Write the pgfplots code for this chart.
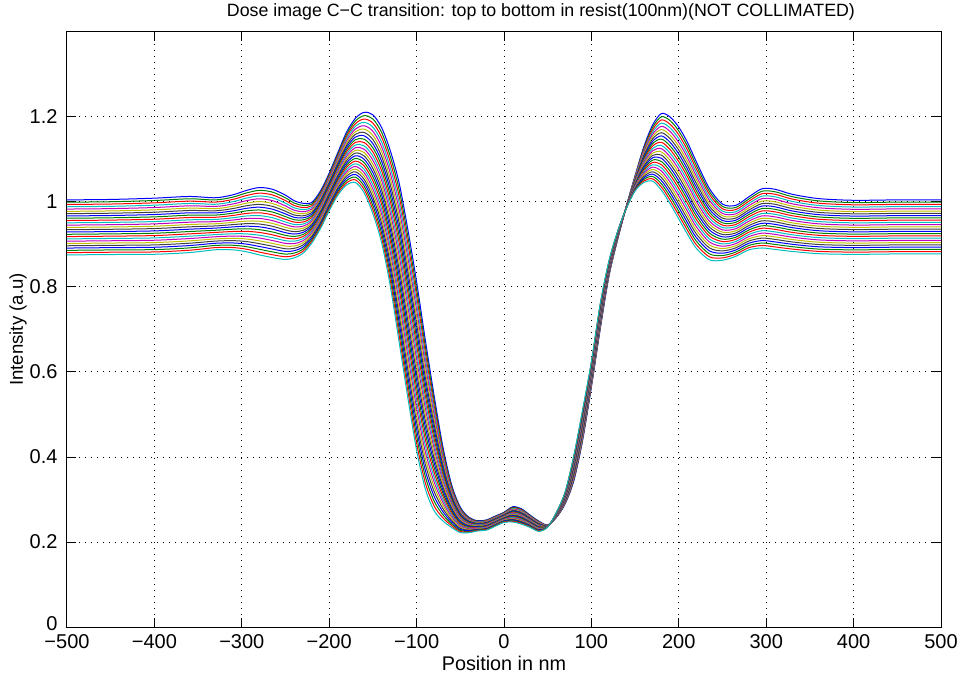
\documentclass[border=0pt]{standalone}
\usepackage{fontspec}
\setmainfont{Liberation Sans}
\usepackage{pgfplots}
\usepackage{pgfplotstable}
\pgfplotsset{compat=1.18}
\definecolor{mb}{rgb}{0,0,1}
\definecolor{mg}{rgb}{0,0.5,0}
\definecolor{mr}{rgb}{1,0,0}
\definecolor{mc}{rgb}{0,0.75,0.75}
\definecolor{mm}{rgb}{0.75,0,0.75}
\definecolor{my}{rgb}{0.75,0.75,0}
\definecolor{mk}{rgb}{0.25,0.25,0.25}
\pgfplotstableread{
x y0 y1 y2 y3 y4 y5 y6 y7 y8 y9 y10 y11 y12 y13 y14 y15 y16 y17 y18 y19 y20 y21 y22 y23 y24
-500 1.0050 0.9996 0.9942 0.9888 0.9834 0.9780 0.9726 0.9672 0.9618 0.9564 0.9510 0.9456 0.9402 0.9348 0.9294 0.9240 0.9186 0.9132 0.9078 0.9024 0.8970 0.8916 0.8862 0.8808 0.8754
-450 1.0060 1.0006 0.9952 0.9898 0.9844 0.9790 0.9736 0.9682 0.9628 0.9574 0.9520 0.9466 0.9412 0.9358 0.9304 0.9250 0.9196 0.9142 0.9088 0.9034 0.8980 0.8926 0.8872 0.8818 0.8764
-400 1.0090 1.0035 0.9980 0.9925 0.9870 0.9815 0.9760 0.9705 0.9650 0.9595 0.9540 0.9485 0.9430 0.9375 0.9320 0.9265 0.9210 0.9155 0.9100 0.9045 0.8990 0.8935 0.8880 0.8825 0.8770
-360 1.0130 1.0075 1.0020 0.9965 0.9910 0.9855 0.9800 0.9745 0.9690 0.9635 0.9580 0.9525 0.9470 0.9415 0.9360 0.9305 0.9250 0.9195 0.9140 0.9085 0.9030 0.8975 0.8920 0.8865 0.8810
-330 1.0100 1.0049 0.9998 0.9947 0.9896 0.9845 0.9794 0.9743 0.9692 0.9641 0.9590 0.9539 0.9488 0.9437 0.9386 0.9335 0.9284 0.9233 0.9182 0.9131 0.9080 0.9029 0.8978 0.8927 0.8876
-310 1.0170 1.0116 1.0062 1.0008 0.9954 0.9900 0.9846 0.9792 0.9738 0.9684 0.9630 0.9576 0.9522 0.9468 0.9414 0.9360 0.9306 0.9252 0.9198 0.9144 0.9090 0.9036 0.8982 0.8928 0.8874
-295 1.0270 1.0210 1.0150 1.0090 1.0030 0.9970 0.9910 0.9850 0.9790 0.9730 0.9670 0.9610 0.9550 0.9490 0.9430 0.9370 0.9310 0.9250 0.9190 0.9130 0.9070 0.9010 0.8950 0.8890 0.8830
-280 1.0340 1.0274 1.0208 1.0142 1.0076 1.0010 0.9944 0.9878 0.9812 0.9746 0.9680 0.9614 0.9548 0.9482 0.9416 0.9350 0.9284 0.9218 0.9152 0.9086 0.9020 0.8954 0.8888 0.8822 0.8756
-265 1.0300 1.0233 1.0166 1.0099 1.0032 0.9965 0.9898 0.9831 0.9764 0.9697 0.9630 0.9563 0.9496 0.9429 0.9362 0.9295 0.9228 0.9161 0.9094 0.9027 0.8960 0.8893 0.8826 0.8759 0.8692
-250 1.0160 1.0097 1.0034 0.9971 0.9908 0.9845 0.9782 0.9719 0.9656 0.9593 0.9530 0.9467 0.9404 0.9341 0.9278 0.9215 0.9152 0.9089 0.9026 0.8963 0.8900 0.8837 0.8774 0.8711 0.8648
-240 1.0030 0.9974 0.9918 0.9862 0.9806 0.9750 0.9694 0.9638 0.9582 0.9526 0.9470 0.9414 0.9358 0.9302 0.9246 0.9190 0.9134 0.9078 0.9022 0.8966 0.8910 0.8854 0.8798 0.8742 0.8686
-230 0.9970 0.9921 0.9872 0.9823 0.9774 0.9725 0.9676 0.9627 0.9578 0.9529 0.9480 0.9431 0.9382 0.9333 0.9284 0.9235 0.9186 0.9137 0.9088 0.9039 0.8990 0.8941 0.8892 0.8843 0.8794
-220 0.9990 0.9950 0.9910 0.9870 0.9830 0.9790 0.9750 0.9710 0.9670 0.9630 0.9590 0.9550 0.9510 0.9470 0.9430 0.9390 0.9350 0.9310 0.9270 0.9230 0.9190 0.9150 0.9110 0.9070 0.9030
-210 1.0260 1.0223 1.0186 1.0149 1.0112 1.0075 1.0038 1.0001 0.9964 0.9927 0.9890 0.9853 0.9816 0.9779 0.9742 0.9705 0.9668 0.9631 0.9594 0.9557 0.9520 0.9483 0.9446 0.9409 0.9372
-200 1.0680 1.0643 1.0606 1.0569 1.0532 1.0495 1.0458 1.0421 1.0384 1.0347 1.0310 1.0273 1.0236 1.0199 1.0162 1.0125 1.0088 1.0051 1.0014 0.9977 0.9940 0.9903 0.9866 0.9829 0.9792
-190 1.1170 1.1128 1.1086 1.1044 1.1002 1.0960 1.0918 1.0876 1.0834 1.0792 1.0750 1.0708 1.0666 1.0624 1.0582 1.0540 1.0498 1.0456 1.0414 1.0372 1.0330 1.0288 1.0246 1.0204 1.0162
-180 1.1650 1.1598 1.1546 1.1494 1.1442 1.1390 1.1338 1.1286 1.1234 1.1182 1.1130 1.1078 1.1026 1.0974 1.0922 1.0870 1.0818 1.0766 1.0714 1.0662 1.0610 1.0558 1.0506 1.0454 1.0402
-170 1.1970 1.1907 1.1844 1.1781 1.1718 1.1655 1.1592 1.1529 1.1466 1.1403 1.1340 1.1277 1.1214 1.1151 1.1088 1.1025 1.0962 1.0899 1.0836 1.0773 1.0710 1.0647 1.0584 1.0521 1.0458
-160 1.2110 1.2031 1.1952 1.1873 1.1794 1.1715 1.1636 1.1557 1.1478 1.1399 1.1320 1.1241 1.1162 1.1083 1.1004 1.0925 1.0846 1.0767 1.0688 1.0609 1.0530 1.0451 1.0372 1.0293 1.0214
-150 1.2050 1.1953 1.1856 1.1759 1.1662 1.1565 1.1468 1.1371 1.1274 1.1177 1.1080 1.0983 1.0886 1.0789 1.0692 1.0595 1.0498 1.0401 1.0304 1.0207 1.0110 1.0013 0.9916 0.9819 0.9722
-140 1.1750 1.1637 1.1524 1.1411 1.1298 1.1185 1.1072 1.0959 1.0846 1.0733 1.0620 1.0507 1.0394 1.0281 1.0168 1.0055 0.9942 0.9829 0.9716 0.9603 0.9490 0.9377 0.9264 0.9151 0.9038
-130 1.1200 1.1067 1.0934 1.0801 1.0668 1.0535 1.0402 1.0269 1.0136 1.0003 0.9870 0.9737 0.9604 0.9471 0.9338 0.9205 0.9072 0.8939 0.8806 0.8673 0.8540 0.8407 0.8274 0.8141 0.8008
-120 1.0450 1.0294 1.0138 0.9982 0.9826 0.9670 0.9514 0.9358 0.9202 0.9046 0.8890 0.8734 0.8578 0.8422 0.8266 0.8110 0.7954 0.7798 0.7642 0.7486 0.7330 0.7174 0.7018 0.6862 0.6706
-110 0.9350 0.9185 0.9020 0.8855 0.8690 0.8525 0.8360 0.8195 0.8030 0.7865 0.7700 0.7535 0.7370 0.7205 0.7040 0.6875 0.6710 0.6545 0.6380 0.6215 0.6050 0.5885 0.5720 0.5555 0.5390
-100 0.8120 0.7955 0.7790 0.7625 0.7460 0.7295 0.7130 0.6965 0.6800 0.6635 0.6470 0.6305 0.6140 0.5975 0.5810 0.5645 0.5480 0.5315 0.5150 0.4985 0.4820 0.4655 0.4490 0.4325 0.4160
-90 0.6750 0.6604 0.6458 0.6312 0.6166 0.6020 0.5874 0.5728 0.5582 0.5436 0.5290 0.5144 0.4998 0.4852 0.4706 0.4560 0.4414 0.4268 0.4122 0.3976 0.3830 0.3684 0.3538 0.3392 0.3246
-80 0.5450 0.5337 0.5224 0.5111 0.4998 0.4885 0.4772 0.4659 0.4546 0.4433 0.4320 0.4207 0.4094 0.3981 0.3868 0.3755 0.3642 0.3529 0.3416 0.3303 0.3190 0.3077 0.2964 0.2851 0.2738
-70 0.4250 0.4177 0.4104 0.4031 0.3958 0.3885 0.3812 0.3739 0.3666 0.3593 0.3520 0.3447 0.3374 0.3301 0.3228 0.3155 0.3082 0.3009 0.2936 0.2863 0.2790 0.2717 0.2644 0.2571 0.2498
-60 0.3350 0.3308 0.3266 0.3224 0.3182 0.3140 0.3098 0.3056 0.3014 0.2972 0.2930 0.2888 0.2846 0.2804 0.2762 0.2720 0.2678 0.2636 0.2594 0.2552 0.2510 0.2468 0.2426 0.2384 0.2342
-50 0.2820 0.2795 0.2770 0.2745 0.2720 0.2695 0.2670 0.2645 0.2620 0.2595 0.2570 0.2545 0.2520 0.2495 0.2470 0.2445 0.2420 0.2395 0.2370 0.2345 0.2320 0.2295 0.2270 0.2245 0.2220
-40 0.2580 0.2565 0.2550 0.2535 0.2520 0.2505 0.2490 0.2475 0.2460 0.2445 0.2430 0.2415 0.2400 0.2385 0.2370 0.2355 0.2340 0.2325 0.2310 0.2295 0.2280 0.2265 0.2250 0.2235 0.2220
-30 0.2500 0.2490 0.2480 0.2470 0.2460 0.2450 0.2440 0.2430 0.2420 0.2410 0.2400 0.2390 0.2380 0.2370 0.2360 0.2350 0.2340 0.2330 0.2320 0.2310 0.2300 0.2290 0.2280 0.2270 0.2260
-20 0.2520 0.2510 0.2500 0.2490 0.2480 0.2470 0.2460 0.2450 0.2440 0.2430 0.2420 0.2410 0.2400 0.2390 0.2380 0.2370 0.2360 0.2350 0.2340 0.2330 0.2320 0.2310 0.2300 0.2290 0.2280
-10 0.2610 0.2600 0.2590 0.2580 0.2570 0.2560 0.2550 0.2540 0.2530 0.2520 0.2510 0.2500 0.2490 0.2480 0.2470 0.2460 0.2450 0.2440 0.2430 0.2420 0.2410 0.2400 0.2390 0.2380 0.2370
0 0.2700 0.2690 0.2680 0.2670 0.2660 0.2650 0.2640 0.2630 0.2620 0.2610 0.2600 0.2590 0.2580 0.2570 0.2560 0.2550 0.2540 0.2530 0.2520 0.2510 0.2500 0.2490 0.2480 0.2470 0.2460
10 0.2830 0.2815 0.2800 0.2785 0.2770 0.2755 0.2740 0.2725 0.2710 0.2695 0.2680 0.2665 0.2650 0.2635 0.2620 0.2605 0.2590 0.2575 0.2560 0.2545 0.2530 0.2515 0.2500 0.2485 0.2470
20 0.2780 0.2765 0.2750 0.2735 0.2720 0.2705 0.2690 0.2675 0.2660 0.2645 0.2630 0.2615 0.2600 0.2585 0.2570 0.2555 0.2540 0.2525 0.2510 0.2495 0.2480 0.2465 0.2450 0.2435 0.2420
30 0.2630 0.2618 0.2606 0.2594 0.2582 0.2570 0.2558 0.2546 0.2534 0.2522 0.2510 0.2498 0.2486 0.2474 0.2462 0.2450 0.2438 0.2426 0.2414 0.2402 0.2390 0.2378 0.2366 0.2354 0.2342
40 0.2490 0.2480 0.2470 0.2460 0.2450 0.2440 0.2430 0.2420 0.2410 0.2400 0.2390 0.2380 0.2370 0.2360 0.2350 0.2340 0.2330 0.2320 0.2310 0.2300 0.2290 0.2280 0.2270 0.2260 0.2250
50 0.2400 0.2398 0.2396 0.2394 0.2392 0.2390 0.2388 0.2386 0.2384 0.2382 0.2380 0.2378 0.2376 0.2374 0.2372 0.2370 0.2368 0.2366 0.2364 0.2362 0.2360 0.2358 0.2356 0.2354 0.2352
60 0.2580 0.2585 0.2590 0.2595 0.2600 0.2605 0.2610 0.2615 0.2620 0.2625 0.2630 0.2635 0.2640 0.2645 0.2650 0.2655 0.2660 0.2665 0.2670 0.2675 0.2680 0.2685 0.2690 0.2695 0.2700
70 0.2900 0.2912 0.2924 0.2936 0.2948 0.2960 0.2972 0.2984 0.2996 0.3008 0.3020 0.3032 0.3044 0.3056 0.3068 0.3080 0.3092 0.3104 0.3116 0.3128 0.3140 0.3152 0.3164 0.3176 0.3188
80 0.3450 0.3475 0.3500 0.3525 0.3550 0.3575 0.3600 0.3625 0.3650 0.3675 0.3700 0.3725 0.3750 0.3775 0.3800 0.3825 0.3850 0.3875 0.3900 0.3925 0.3950 0.3975 0.4000 0.4025 0.4050
90 0.4400 0.4430 0.4460 0.4490 0.4520 0.4550 0.4580 0.4610 0.4640 0.4670 0.4700 0.4730 0.4760 0.4790 0.4820 0.4850 0.4880 0.4910 0.4940 0.4970 0.5000 0.5030 0.5060 0.5090 0.5120
100 0.5650 0.5675 0.5700 0.5725 0.5750 0.5775 0.5800 0.5825 0.5850 0.5875 0.5900 0.5925 0.5950 0.5975 0.6000 0.6025 0.6050 0.6075 0.6100 0.6125 0.6150 0.6175 0.6200 0.6225 0.6250
110 0.7000 0.7025 0.7050 0.7075 0.7100 0.7125 0.7150 0.7175 0.7200 0.7225 0.7250 0.7275 0.7300 0.7325 0.7350 0.7375 0.7400 0.7425 0.7450 0.7475 0.7500 0.7525 0.7550 0.7575 0.7600
120 0.8250 0.8265 0.8280 0.8295 0.8310 0.8325 0.8340 0.8355 0.8370 0.8385 0.8400 0.8415 0.8430 0.8445 0.8460 0.8475 0.8490 0.8505 0.8520 0.8535 0.8550 0.8565 0.8580 0.8595 0.8610
130 0.9120 0.9128 0.9136 0.9144 0.9152 0.9160 0.9168 0.9176 0.9184 0.9192 0.9200 0.9208 0.9216 0.9224 0.9232 0.9240 0.9248 0.9256 0.9264 0.9272 0.9280 0.9288 0.9296 0.9304 0.9312
140 0.9900 0.9898 0.9896 0.9894 0.9892 0.9890 0.9888 0.9886 0.9884 0.9882 0.9880 0.9878 0.9876 0.9874 0.9872 0.9870 0.9868 0.9866 0.9864 0.9862 0.9860 0.9858 0.9856 0.9854 0.9852
150 1.0620 1.0605 1.0590 1.0575 1.0560 1.0545 1.0530 1.0515 1.0500 1.0485 1.0470 1.0455 1.0440 1.0425 1.0410 1.0395 1.0380 1.0365 1.0350 1.0335 1.0320 1.0305 1.0290 1.0275 1.0260
160 1.1300 1.1265 1.1230 1.1195 1.1160 1.1125 1.1090 1.1055 1.1020 1.0985 1.0950 1.0915 1.0880 1.0845 1.0810 1.0775 1.0740 1.0705 1.0670 1.0635 1.0600 1.0565 1.0530 1.0495 1.0460
170 1.1810 1.1755 1.1700 1.1645 1.1590 1.1535 1.1480 1.1425 1.1370 1.1315 1.1260 1.1205 1.1150 1.1095 1.1040 1.0985 1.0930 1.0875 1.0820 1.0765 1.0710 1.0655 1.0600 1.0545 1.0490
180 1.2080 1.2005 1.1930 1.1855 1.1780 1.1705 1.1630 1.1555 1.1480 1.1405 1.1330 1.1255 1.1180 1.1105 1.1030 1.0955 1.0880 1.0805 1.0730 1.0655 1.0580 1.0505 1.0430 1.0355 1.0280
190 1.2000 1.1915 1.1830 1.1745 1.1660 1.1575 1.1490 1.1405 1.1320 1.1235 1.1150 1.1065 1.0980 1.0895 1.0810 1.0725 1.0640 1.0555 1.0470 1.0385 1.0300 1.0215 1.0130 1.0045 0.9960
200 1.1760 1.1670 1.1580 1.1490 1.1400 1.1310 1.1220 1.1130 1.1040 1.0950 1.0860 1.0770 1.0680 1.0590 1.0500 1.0410 1.0320 1.0230 1.0140 1.0050 0.9960 0.9870 0.9780 0.9690 0.9600
210 1.1400 1.1310 1.1220 1.1130 1.1040 1.0950 1.0860 1.0770 1.0680 1.0590 1.0500 1.0410 1.0320 1.0230 1.0140 1.0050 0.9960 0.9870 0.9780 0.9690 0.9600 0.9510 0.9420 0.9330 0.9240
220 1.0950 1.0865 1.0780 1.0695 1.0610 1.0525 1.0440 1.0355 1.0270 1.0185 1.0100 1.0015 0.9930 0.9845 0.9760 0.9675 0.9590 0.9505 0.9420 0.9335 0.9250 0.9165 0.9080 0.8995 0.8910
235 1.0320 1.0250 1.0180 1.0110 1.0040 0.9970 0.9900 0.9830 0.9760 0.9690 0.9620 0.9550 0.9480 0.9410 0.9340 0.9270 0.9200 0.9130 0.9060 0.8990 0.8920 0.8850 0.8780 0.8710 0.8640
250 0.9950 0.9895 0.9840 0.9785 0.9730 0.9675 0.9620 0.9565 0.9510 0.9455 0.9400 0.9345 0.9290 0.9235 0.9180 0.9125 0.9070 0.9015 0.8960 0.8905 0.8850 0.8795 0.8740 0.8685 0.8630
265 0.9920 0.9870 0.9820 0.9770 0.9720 0.9670 0.9620 0.9570 0.9520 0.9470 0.9420 0.9370 0.9320 0.9270 0.9220 0.9170 0.9120 0.9070 0.9020 0.8970 0.8920 0.8870 0.8820 0.8770 0.8720
280 1.0120 1.0068 1.0016 0.9964 0.9912 0.9860 0.9808 0.9756 0.9704 0.9652 0.9600 0.9548 0.9496 0.9444 0.9392 0.9340 0.9288 0.9236 0.9184 0.9132 0.9080 0.9028 0.8976 0.8924 0.8872
295 1.0310 1.0252 1.0194 1.0136 1.0078 1.0020 0.9962 0.9904 0.9846 0.9788 0.9730 0.9672 0.9614 0.9556 0.9498 0.9440 0.9382 0.9324 0.9266 0.9208 0.9150 0.9092 0.9034 0.8976 0.8918
310 1.0300 1.0241 1.0182 1.0123 1.0064 1.0005 0.9946 0.9887 0.9828 0.9769 0.9710 0.9651 0.9592 0.9533 0.9474 0.9415 0.9356 0.9297 0.9238 0.9179 0.9120 0.9061 0.9002 0.8943 0.8884
330 1.0180 1.0124 1.0068 1.0012 0.9956 0.9900 0.9844 0.9788 0.9732 0.9676 0.9620 0.9564 0.9508 0.9452 0.9396 0.9340 0.9284 0.9228 0.9172 0.9116 0.9060 0.9004 0.8948 0.8892 0.8836
360 1.0080 1.0026 0.9972 0.9918 0.9864 0.9810 0.9756 0.9702 0.9648 0.9594 0.9540 0.9486 0.9432 0.9378 0.9324 0.9270 0.9216 0.9162 0.9108 0.9054 0.9000 0.8946 0.8892 0.8838 0.8784
400 1.0040 0.9987 0.9934 0.9881 0.9828 0.9775 0.9722 0.9669 0.9616 0.9563 0.9510 0.9457 0.9404 0.9351 0.9298 0.9245 0.9192 0.9139 0.9086 0.9033 0.8980 0.8927 0.8874 0.8821 0.8768
450 1.0050 0.9997 0.9944 0.9891 0.9838 0.9785 0.9732 0.9679 0.9626 0.9573 0.9520 0.9467 0.9414 0.9361 0.9308 0.9255 0.9202 0.9149 0.9096 0.9043 0.8990 0.8937 0.8884 0.8831 0.8778
500 1.0050 0.9997 0.9944 0.9891 0.9838 0.9785 0.9732 0.9679 0.9626 0.9573 0.9520 0.9467 0.9414 0.9361 0.9308 0.9255 0.9202 0.9149 0.9096 0.9043 0.8990 0.8937 0.8884 0.8831 0.8778
}\curves
\begin{document}
\begin{tikzpicture}
\useasboundingbox (-33.5pt,-23.5pt) rectangle (447pt,313.5pt);
\begin{axis}[
  at={(0,0)}, anchor=south west,
  scale only axis, width=437pt, height=297.5pt,
  xmin=-500, xmax=500, ymin=0, ymax=1.4,
  xtick={-500,-400,-300,-200,-100,0,100,200,300,400,500},
  xticklabels={−500,−400,−300,−200,−100,0,100,200,300,400,500},
  ytick={0,0.2,0.4,0.6,0.8,1,1.2},
  yticklabels={\raisebox{3.5pt}{0},0.2,0.4,0.6,0.8,1,1.2},
  tick align=inside, major tick length=4.5pt,
  tick style={black, line width=0.5pt},
  grid=major,
  grid style={black, line width=0.5pt, dash pattern=on 0.5pt off 2.5pt},
  axis line style={black, line width=0.5pt},
  ticklabel style={font=\fontsize{10}{12}\selectfont},
  yticklabel style={xshift=-1.2pt},
  xlabel={Position in nm},
  xlabel style={font=\fontsize{9.9}{12}\selectfont, at={(axis description cs:0.5,-0.0605)}, anchor=center},
  ylabel={Intensity (a.u)},
  ylabel style={font=\fontsize{9.3}{11}\selectfont, at={(axis description cs:-0.0561,0.5)}, anchor=center},
  title={Dose image C−C transition: top to bottom in resist(100nm)(NOT COLLIMATED)},
  every axis title/.style={font=\fontsize{8.9}{11}\selectfont, at={(axis description cs:0.5423,1.0336)}, anchor=center},
  cycle list={{mb},{mg},{mr},{mc},{mm},{my},{mk}},
  every axis plot/.append style={line width=0.5pt, no marks, smooth},
]
\pgfplotsinvokeforeach{0,...,24}{\addplot table[x=x,y=y#1]{\curves};}
\end{axis}
\end{tikzpicture}
\end{document}
